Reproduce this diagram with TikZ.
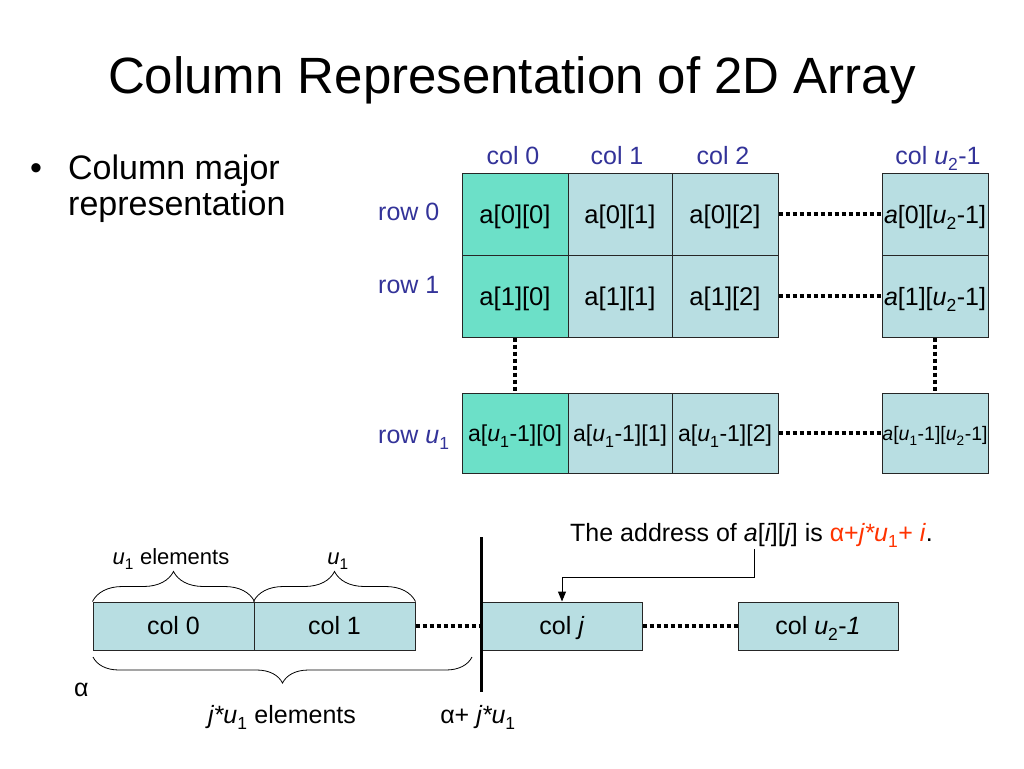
\documentclass[tikz,border=0pt]{standalone}
\usepackage{fontspec}
\setmainfont{Liberation Sans}
\usetikzlibrary{arrows.meta,decorations.pathreplacing}
\definecolor{tealc}{RGB}{108,224,200}
\definecolor{cellc}{RGB}{184,222,226}
\definecolor{lblc}{RGB}{51,51,153}
\definecolor{redc}{RGB}{255,51,0}
\newcommand{\myfs}[1]{\fontsize{#1}{#1}\selectfont}
\newcommand{\sbs}[1]{\raisebox{-0.1em}{\textsubscript{#1}}}
\newcommand{\ui}{\textit{u}}
\begin{document}
\begin{tikzpicture}[x=1pt,y=-1pt,
  every node/.style={inner sep=0pt},
  cellbox/.style={draw=black!85, line width=1pt, fill=cellc, minimum height=82pt,
     text height=18pt, text depth=0pt, font={\myfs{25.6pt}}},
  firstcol/.style={fill=tealc},
  lowrow/.style={minimum height=80pt, text height=16.5pt, font={\myfs{23pt}}},
  lbl/.style={text=lblc, font={\myfs{25pt}}},
  dotline/.style={line width=4pt, dash pattern=on 4pt off 3pt},
  membox/.style={draw=black!85, line width=1pt, fill=cellc, minimum width=161pt,
     minimum height=48pt, text height=17.5pt, text depth=0pt, font={\myfs{25pt}}},
  txt/.style={font={\myfs{25pt}}},
  bracestyle/.style={decorate, line width=0.8pt}
]
\useasboundingbox (0,0) rectangle (1024,768);
\fill[white] (0,0) rectangle (1024,768);

% title and bullet
\node[anchor=base, font={\myfs{51pt}}] (title) at (512,93) {Column Representation of 2D Array};
\node[anchor=base west, font={\myfs{34pt}}] (bul) at (30,179) {•};
\node[anchor=base west, font={\myfs{34pt}}] (bl1) at (68,179) {Column major};
\node[anchor=base west, font={\myfs{34pt}}] (bl2) at (68,215) {representation};

% column labels
\node[lbl, anchor=base] (cl0) at (513,164) {col 0};
\node[lbl, anchor=base] (cl1) at (617,164) {col 1};
\node[lbl, anchor=base] (cl2) at (723,164) {col 2};
\node[lbl, anchor=base] (cll) at (938,164) {col \ui\sbs{2}-1};

% row labels
\node[lbl, anchor=base west] (rl0) at (378,220) {row 0};
\node[lbl, anchor=base west] (rl1) at (378,293) {row 1};
\node[lbl, anchor=base west] (rll) at (378,443) {row \ui\sbs{1}};

% grid cells
\node[cellbox, firstcol, minimum width=106pt] (a00) at (515,214) {a[0][0]};
\node[cellbox, minimum width=104pt] (a01) at (620,214) {a[0][1]};
\node[cellbox, minimum width=106pt] (a02) at (725,214) {a[0][2]};
\node[cellbox, minimum width=106pt, font={\myfs{25pt}}] (a0l) at (935,214) {\textit{a}[0][\ui\sbs{2}-1]};

\node[cellbox, firstcol, minimum width=106pt] (a10) at (515,296) {a[1][0]};
\node[cellbox, minimum width=104pt] (a11) at (620,296) {a[1][1]};
\node[cellbox, minimum width=106pt] (a12) at (725,296) {a[1][2]};
\node[cellbox, minimum width=106pt, font={\myfs{25pt}}] (a1l) at (935,296) {\textit{a}[1][\ui\sbs{2}-1]};

\node[cellbox, lowrow, firstcol, minimum width=106pt] (au0) at (515,433) {a[\ui\sbs{1}-1][0]};
\node[cellbox, lowrow, minimum width=104pt] (au1) at (620,433) {a[\ui\sbs{1}-1][1]};
\node[cellbox, lowrow, minimum width=106pt] (au2) at (725,433) {a[\ui\sbs{1}-1][2]};
\node[cellbox, lowrow, minimum width=106pt, text height=14pt, font={\myfs{19.5pt}}] (aul) at (935,433) {\textit{a}[\ui\sbs{1}-1][\ui\sbs{2}-1]};

% dotted connectors in grid
\draw[dotline] (a02.east) -- (a0l.west);
\draw[dotline] (a12.east) -- (a1l.west);
\draw[dotline] (au2.east) -- (aul.west);
\draw[dotline] (a10.south) -- (au0.north);
\draw[dotline] (a1l.south) -- (aul.north);

% memory layout
\node[membox] (m0) at (173.5,626) {col 0};
\node[membox] (m1) at (334.5,626) {col 1};
\node[membox, minimum width=160pt] (mj) at (562,626) {col \textit{j}};
\node[membox, minimum width=160pt] (ml) at (818,626) {col \ui\sbs{2}-\textit{1}};

\coordinate (vt) at (481,537);
\coordinate (vb) at (481,692);
\draw[dotline] (m1.east) -- (m1.east -| vt);
\draw[dotline] (mj.east) -- (ml.west);
\draw[line width=3pt] (vt) -- (vb);

% braces
\draw[bracestyle, decoration={brace, amplitude=30pt}] (m0.north west) -- (m0.north east);
\draw[bracestyle, decoration={brace, amplitude=30pt}] (m1.north west) -- (m1.north east);
\coordinate (br1) at (472,657);
\coordinate (br2) at (93,657);
\draw[bracestyle, decoration={brace, amplitude=26pt}] (br1) -- (br2);

\node[txt, anchor=base, font={\myfs{22pt}}] (ue) at (171,564) {\ui\sbs{1} elements};
\node[txt, anchor=base, font={\myfs{22pt}}] (uo) at (338,564) {\ui\sbs{1}};
\node[txt, anchor=base west] (alpha) at (74,696) {α};
\node[txt, anchor=base] (je) at (282,723) {\textit{j*u}\sbs{1} elements};
\node[txt, anchor=base] (aj) at (478,723) {α+ \textit{j*u}\sbs{1}};

% address text and pointer
\node[txt, anchor=base west] (addr) at (570,541) {The address of \textit{a}[\textit{i}][\textit{j}] is \textcolor{redc}{α+\textit{j*u}\sbs{1}+ \textit{i}}.};
\coordinate (ptr) at (754,549);
\coordinate (bend) at (754,577);
\draw[line width=1pt, -{Triangle[length=10pt,width=8pt]}] (ptr) -- (bend) -| (mj.north);
\end{tikzpicture}
\end{document}
